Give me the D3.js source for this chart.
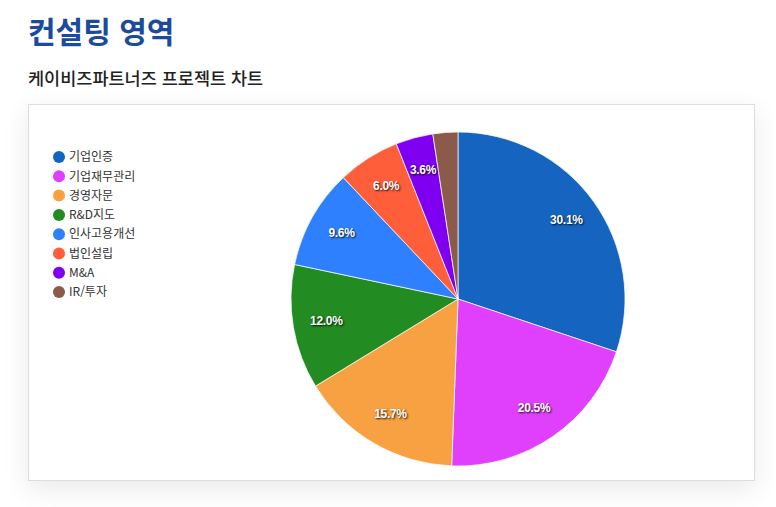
<!DOCTYPE html>
<html lang="ko">
<head>
<meta charset="utf-8">
<script src="https://cdn.jsdelivr.net/npm/d3@7"></script>
<style>
  body { margin: 0; background: #fff; font-family: "Noto Sans CJK KR", "Noto Sans", sans-serif; }
  #title { position: absolute; left: 28px; top: 12px; margin: 0; font-size: 30px; font-weight: 700; color: #1b4c9b; line-height: 1.2; }
  #subtitle { position: absolute; left: 28px; top: 67px; margin: 0; font-size: 17.5px; font-weight: 500; color: #222; line-height: 1.2; }
  #box { position: absolute; left: 28px; top: 104px; width: 725px; height: 375px; border: 1px solid #ddd; background: #fff; box-shadow: 0 8px 25px rgba(0,0,0,0.09); }
  svg text.lbl { text-shadow: 1px 1px 2px rgba(0,0,0,0.9); }
</style>
</head>
<body>
<h1 id="title">컨설팅 영역</h1>
<h2 id="subtitle">케이비즈파트너즈 프로젝트 차트</h2>
<div id="box"></div>
<script>
// 프로젝트 건수 (비율: 30.1 / 20.5 / 15.7 / 12.0 / 9.6 / 6.0 / 3.6 / 2.4 %)
const categories = ['기업인증', '기업재무관리', '경영자문', 'R&D지도', '인사고용개선', '법인설립', 'M&A', 'IR/투자'];
const counts = [25, 17, 13, 10, 8, 5, 3, 2];
const colors = ['#1565c0', '#e040fb', '#f7a142', '#228b22', '#2f80ff', '#ff5e3a', '#7f00f0', '#8b5a4b'];

const width = 727, height = 377;
const svg = d3.select('#box')
  .append('svg')
  .attr('width', width)
  .attr('height', height)
  .style('position', 'absolute')
  .style('left', '-1px')
  .style('top', '-1px');

const data = categories.map((c, i) => ({ name: c, value: counts[i], color: colors[i] }));
const total = d3.sum(counts);

// Pie
const cx = 430, cy = 195, radius = 167;
const pie = d3.pie().value(d => d.value).sort(null);
const arc = d3.arc().innerRadius(0).outerRadius(radius);
const labelArc = d3.arc().innerRadius(radius * 0.8).outerRadius(radius * 0.8);

const g = svg.append('g').attr('transform', `translate(${cx},${cy})`);
const arcs = pie(data);

g.selectAll('path')
  .data(arcs)
  .enter()
  .append('path')
  .attr('d', arc)
  .attr('fill', d => d.data.color)
  .attr('stroke', '#fff')
  .attr('stroke-width', 0.7);

// Labels (small slices are skipped)
g.selectAll('text')
  .data(arcs.filter(d => d.data.value / total >= 0.03))
  .enter()
  .append('text')
  .attr('class', 'lbl')
  .attr('transform', d => `translate(${labelArc.centroid(d)})`)
  .attr('text-anchor', 'middle')
  .attr('dy', '0.3em')
  .attr('fill', '#fff')
  .style('font-family', '"Liberation Sans", Arial, sans-serif')
  .style('font-size', '12px')
  .style('font-weight', '700')
  .style('letter-spacing', '-0.3px')
  .text(d => (d.data.value / total * 100).toFixed(1) + '%');

// Legend
const legend = svg.append('g').attr('transform', 'translate(31,53)');
const rowH = 19.3;
const item = legend.selectAll('g')
  .data(data)
  .enter()
  .append('g')
  .attr('transform', (d, i) => `translate(0,${i * rowH})`);

item.append('circle')
  .attr('r', 6)
  .attr('fill', d => d.color);

item.append('text')
  .attr('x', 10)
  .attr('dy', '0.35em')
  .attr('fill', '#333')
  .style('font-size', '12px')
  .text(d => d.name);
</script>
</body>
</html>
